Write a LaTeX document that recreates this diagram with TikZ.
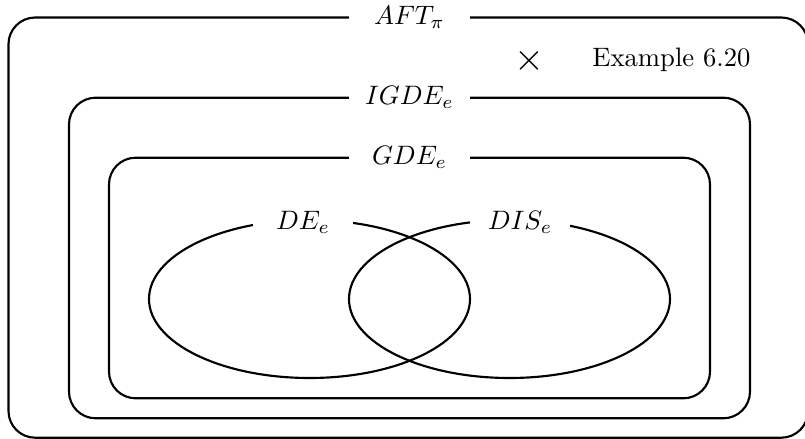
\documentclass[tikz,border=0pt]{standalone}
\usepackage{amsmath}
\begin{document}
\begin{tikzpicture}[x=0.375pt,y=-0.375pt,
  setline/.style={line width=0.8pt, rounded corners=10pt},
  toplabel/.style={fill=white, inner sep=0pt, minimum width=45.4pt, minimum height=12pt},
  venlabel/.style={fill=white, inner sep=0pt, minimum width=37.2pt, minimum height=12pt}]
\useasboundingbox (0,0) rectangle (805,439);

% nested classes
\draw[setline] (8.5,17.5) rectangle (808,437.7);
\draw[setline] (69,97.7) rectangle (750,418.3);
\draw[setline] (109,157.7) rectangle (710,398.3);

% the two overlapping classes
\draw[line width=0.8pt] (309.5,299) ellipse [x radius=160.5, y radius=79];
\draw[line width=0.8pt] (509.5,299) ellipse [x radius=160.5, y radius=79];

% class names
\node[toplabel] (aft)  at (409.5,17.5)  {$AFT_\pi$};
\node[toplabel] (igde) at (409.5,97.7)  {$IGDE_e$};
\node[toplabel] (gde)  at (409.5,157.7) {$GDE_e$};
\node[venlabel] (de)   at (303,222) {$DE_e$};
\node[venlabel] (dis)  at (520,222) {$DIS_e$};

% example marker
\node (mark) at (529,60.5) {\Large$\times$};
\node (ex) at (671.5,60) {Example 6.20};
\end{tikzpicture}
\end{document}
